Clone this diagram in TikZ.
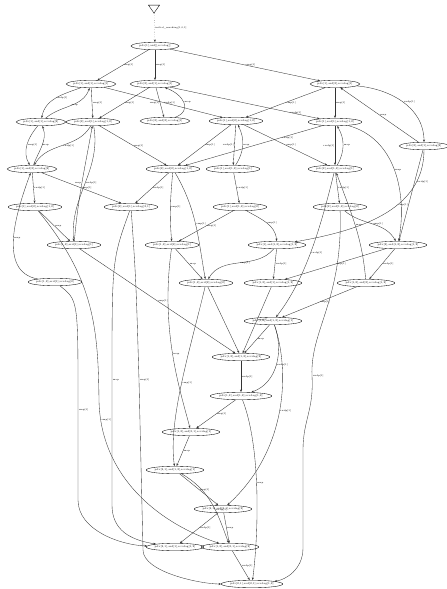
\documentclass[tikz,border=0pt]{standalone}
\usetikzlibrary{shapes.geometric,arrows.meta}
\begin{document}
\begin{tikzpicture}[x=1pt,y=-1pt,
 st/.style={ellipse, draw, line width=0.35pt, inner sep=0pt, minimum height=7.5pt, minimum width=48pt, font=\fontsize{2.6}{3}\selectfont},
 ed/.style={-{Stealth[length=2.6pt,width=2pt]}, line width=0.35pt, draw=black!80},
 lb/.style={font=\fontsize{2.4}{3}\selectfont, inner sep=0.6pt, right}]
\useasboundingbox (0,0) rectangle (447,589);
% start marker
\node[isosceles triangle, shape border rotate=-90, draw, line width=0.35pt, minimum width=11pt, minimum height=8pt, inner sep=0pt, isosceles triangle apex angle=70] (tri) at (154,8) {};
% states
\node[st] (n1) at (155,46) {pdv[1],ard[],rcvdag[]};
\node[st] (a) at (91,84) {pdv[1],ard[1],rcvdag[1]};
\node[st] (b) at (155,84) {pdv[2],ard[1],rcvdag[1]};
\node[st] (c) at (335,84) {pdv[1],ard[2],rcvdag[1]};
\node[st] (d) at (41,122) {pdv[1],ard[1],rcvdag[2]};
\node[st] (e) at (93,122) {pdv[2],ard[1],rcvdag[1,2]};
\node[st] (f) at (165,121) {pdv[2],ard[2],rcvdag[1]};
\node[st] (g) at (236,121) {pdv[1],ard[2],rcvdag[1,2]};
\node[st] (h) at (335,122) {pdv[1],ard[1],rcvdag[1,2]};
\node[st] (i) at (424,146) {pdv[2],ard[1],rcvdag[2]};
\node[st] (j) at (32,169) {pdv[1],ard[2],rcvdag[2]};
\node[st] (k) at (173,169) {pdv[2],ard[2],rcvdag[1,2]};
\node[st] (l) at (233,169) {pdv[1],ard[1,2],rcvdag[1]};
\node[st] (m) at (335,169) {pdv[2],ard[1,2],rcvdag[1]};
\node[st] (n) at (35,207) {pdv[1],ard[2],rcvdag[1,2]};
\node[st] (o) at (131,207) {pdv[2],ard[1],rcvdag[2,1]};
\node[st] (p) at (240,207) {pdv[1],ard[1,2],rcvdag[2]};
\node[st] (q) at (340,207) {pdv[2],ard[1,2],rcvdag[2]};
\node[st] (r) at (74,245) {pdv[1,2],ard[1],rcvdag[1]};
\node[st] (s) at (172,245) {pdv[1,2],ard[2],rcvdag[1]};
\node[st] (t) at (277,245) {pdv[1],ard[1,2],rcvdag[1,2]};
\node[st] (u) at (398,245) {pdv[2],ard[1,2],rcvdag[1,2]};
\node[st] (v) at (55,282) {pdv[1,2],ard[1],rcvdag[2]};
\node[st] (w) at (206,283) {pdv[1,2],ard[2],rcvdag[2]};
\node[st] (x) at (273,283) {pdv[1,2],ard[1],rcvdag[1,2]};
\node[st] (y) at (366,283) {pdv[1,2],ard[2],rcvdag[1,2]};
\node[st] (z) at (273,321) {pdv[1,2],ard[1,2],rcvdag[1]};
\node[st] (aa) at (241,357) {pdv[1,2],ard[1,2],rcvdag[2]};
\node[st] (ab) at (241,396) {pdv[1,2],ard[1,2],rcvdag[1,2]};
\node[st] (ac) at (191,432) {pdv[1,2],ard[2,1],rcvdag[1]};
\node[st] (ad) at (175,470) {pdv[2,1],ard[1,2],rcvdag[1]};
\node[st] (ae) at (223,509) {pdv[2,1],ard[2,1],rcvdag[2]};
\node[st] (af) at (175,547) {pdv[2,1],ard[1],rcvdag[1,2]};
\node[st] (ag) at (230,547) {pdv[1,2],ard[2,1],rcvdag[2]};
\node[st] (ah) at (252,584) {pdv[2,1],ard[2,1],rcvdag[1,2]};
% start
\draw[ed, dotted] (tri) -- node[lb, pos=0.5]{initial\_marking[1,0,1]} (n1);
% edges
\draw[ed] (n1) -- node[lb]{emp[1]} (a);
\draw[ed] (n1) -- node[lb]{emp[1]} (b);
\draw[ed] (n1) -- node[lb]{emp[1]} (c);
\draw[ed] (a) to[out=200,in=80] node[lb]{rwdp[1]} (d);
\draw[ed] (d) to[out=40,in=250] node[lb]{map} (a);
\draw[ed] (a) -- node[lb]{emp[1]} (e);
\draw[ed] (a) -- node[lb]{rwdp[1]} (g);
\draw[ed] (b) -- node[lb,left]{emp[1]} (f);
\draw[ed] (b) -- node[lb]{emp[1]} (e);
\draw[ed] (f) to[out=20,in=-20,looseness=1.6] node[lb]{map} (b);
\draw[ed] (b) -- node[lb,pos=0.8]{rwdp[1]} (h);
\draw[ed] (c) -- node[lb]{emp[1]} (g);
\draw[ed] (c) -- node[lb]{emp[1]} (h);
\draw[ed] (i) -- node[lb]{map} (c);
\draw[ed] (c) to[out=-5,in=90] node[lb]{rwdp[1]} (i);
\draw[ed] (d) to[out=-130,in=120] node[lb]{emp[1]} (j);
\draw[ed] (j) to[out=70,in=-70] node[lb]{map} (d);
\draw[ed] (e) to[out=-120,in=60] node[lb]{rwdp[1]} (j);
\draw[ed] (e) to[out=-80,in=95] node[lb]{rwdp[1]} (r);
\draw[ed] (r) to[out=85,in=-100] node[lb,left]{map} (e);
\draw[ed] (e) -- node[lb]{emp[1]} (k);
\draw[ed] (g) -- node[lb]{emp[1]} (k);
\draw[ed] (g) -- node[lb,left]{rwdp[1]} (l);
\draw[ed] (l) to[bend right=30] node[lb]{map} (g);
\draw[ed] (g) -- node[lb]{emp[1]} (m);
\draw[ed] (h) -- node[lb,left]{rwdp[1]} (m);
\draw[ed] (m) to[bend right=30] node[lb]{map} (h);
\draw[ed] (h) to[out=-15,in=80] node[lb]{map} (u);
\draw[ed] (h) -- node[lb,pos=0.3]{rwdp[1]} (k);
\draw[ed] (i) -- node[lb,left,pos=0.6]{emp[1]} (u);
\draw[ed] (i) to[out=-90,in=10] node[lb,pos=0.2]{rwdp[1]} (t);
\draw[ed] (j) -- node[lb]{rwdp[1]} (n);
\draw[ed] (j) -- node[lb]{emp[1]} (o);
\draw[ed] (n) -- node[lb]{map} (r);
\draw[ed] (v) to[out=170,in=-110] node[lb]{map} (j);
\draw[ed] (k) -- node[lb]{rwdp[1]} (o);
\draw[ed] (k) to[out=-95,in=95] node[lb]{emp[1]} (s);
\draw[ed] (k) to[out=-60,in=100] node[lb]{emp[1]} (w);
\draw[ed] (l) -- node[lb]{rwdp[1]} (p);
\draw[ed] (p) -- node[lb]{emp[1]} (s);
\draw[ed] (p) to[out=-30,in=95] node[lb]{emp[1]} (t);
\draw[ed] (s) -- node[lb]{map} (w);
\draw[ed] (t) to[out=-130,in=60] node[lb]{emp[1]} (w);
\draw[ed] (t) -- node[lb]{rwdp[1]} (x);
\draw[ed] (u) -- node[lb]{emp[1]} (x);
\draw[ed] (m) -- node[lb]{rwdp[1]} (q);
\draw[ed] (q) to[out=-40,in=120] node[lb]{emp[1]} (u);
\draw[ed] (u) -- node[lb]{rwdp[1]} (y);
\draw[ed] (y) to[out=95,in=-70] node[lb]{map} (m);
\draw[ed] (y) -- node[lb]{emp[1]} (z);
\draw[ed] (m) .. controls (320,230) and (305,280) .. node[lb]{rwdp[1]} (z);
\draw[ed] (r) -- node[lb]{emp[1]} (aa);
\draw[ed] (w) -- (aa);
\draw[ed] (x) -- node[lb]{emp[1]} (aa);
\draw[ed] (z) -- node[lb]{map} (aa);
\draw[ed] (aa) -- node[lb]{rwdp[1]} (ab);
\draw[ed] (z) to[out=-70,in=20] node[lb]{rwdp[1]} (ab);
\draw[ed] (ab) -- node[lb]{emp[1]} (ac);
\draw[ed] (ac) -- node[lb]{map} (ad);
\draw[ed] (ad) -- node[lb]{emp[1]} (ae);
\draw[ed] (ae) -- node[lb]{rwdp[1]} (af);
\draw[ed] (ae) -- node[lb]{map} (ag);
\draw[ed] (ag) -- node[lb]{rwdp[1]} (ah);
\draw[ed] (ad) to[out=-30,in=110] node[lb,pos=0.6]{rwdp[1]} (ag);
\draw[ed] (n) .. controls (95,280) and (98,330) .. (99,400) .. controls (100,470) and (150,520) .. node[lb,pos=0.1]{emp[1]} (ag);
\draw[ed] (v) .. controls (78,300) .. (78,400) -- node[lb,pos=0.1]{emp[1]} (78,500) .. controls (78,530) and (120,545) .. (af);
\draw[ed] (o) .. controls (112,260) .. (112,380) -- node[lb,pos=0]{map} (112,505) .. controls (112,530) and (130,540) .. (af);
\draw[ed] (o) .. controls (136,280) .. (139,380) -- node[lb,pos=0]{emp[1]} (143,550) .. controls (143,572) and (200,584) .. (ah);
\draw[ed] (q) .. controls (343,300) and (310,330) .. (312,376) node[lb]{rwdp[1]} .. controls (314,410) and (303,420) .. (303,450) -- (303,548) .. controls (303,570) and (285,580) .. (ah);
\draw[ed] (ab) .. controls (262,450) and (258,540) .. node[lb,pos=0.45]{map} (ah);
\draw[ed] (z) .. controls (290,370) and (288,450) .. node[lb,pos=0.5]{rwdp[1]} (ae);
\draw[ed] (w) .. controls (190,350) and (168,420) .. node[lb,pos=0.5]{emp[1]} (ad);
\draw[ed] (s) .. controls (160,330) and (180,390) .. node[lb,pos=0.5]{map} (ac);
\end{tikzpicture}
\end{document}
